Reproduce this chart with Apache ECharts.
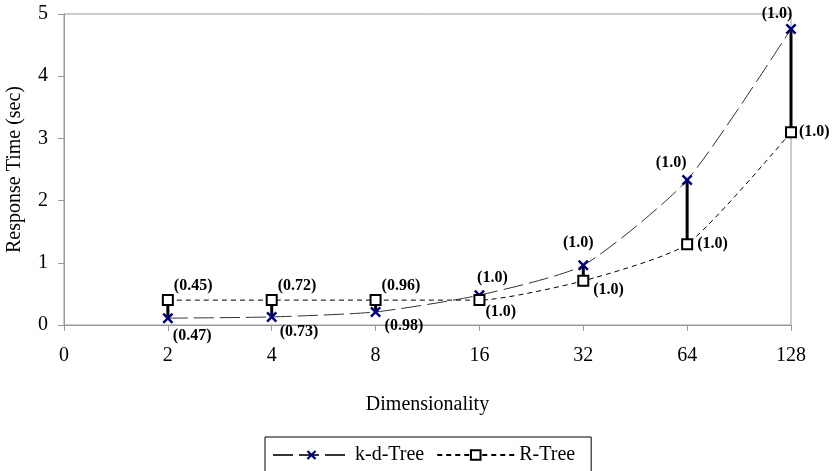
<!DOCTYPE html>
<html><head><meta charset="utf-8">
<script src="https://cdn.jsdelivr.net/npm/echarts@6/dist/echarts.min.js"></script>
<style>html,body{margin:0;padding:0;background:#fff}#c{width:834px;height:471px}</style>
</head><body><div id="c"></div>
<script>
const categories = ['0','2','4','8','16','32','64','128'];
const kdTree = [null, 0.11, 0.13, 0.21, 0.48, 0.96, 2.33, 4.76];
const rTree  = [null, 0.40, 0.40, 0.40, 0.40, 0.71, 1.30, 3.10];
const kdLabels = ['', '(0.47)', '(0.73)', '(0.98)', '(1.0)', '(1.0)', '(1.0)', '(1.0)'];
const rLabels  = ['', '(0.45)', '(0.72)', '(0.96)', '(1.0)', '(1.0)', '(1.0)', '(1.0)'];

// label placement styles (by index)
const kdLabelPos = [null,
  {position:'right', offset:[-5.5,18]},
  {position:'right', offset:[-2.5,15]},
  {position:'right', offset:[-1.5,14]},
  {position:'top', offset:[13,1.5]},
  {position:'top', offset:[-5,-3.5]},
  {position:'top', offset:[-16,1.5]},
  {position:'top', offset:[-14,3.5]}];
const rLabelPos = [null,
  {position:'right', offset:[-5,-14]},
  {position:'right', offset:[-5,-14]},
  {position:'right', offset:[-5,-14]},
  {position:'right', offset:[-5,12]},
  {position:'right', offset:[-1,9]},
  {position:'right', offset:[-1,0]},
  {position:'right', offset:[-3,0]}];

const font = '"Liberation Serif", "Times New Roman", serif';
const labelBase = {show:true, fontFamily:font, fontWeight:'bold', fontSize:16, color:'#000'};

function build(vals, labels, pos){
  return vals.map((v,i)=> v==null ? '-' : {value:v, label:Object.assign({}, labelBase, pos[i], {formatter: labels[i]})});
}
const connectors = kdTree.map((v,i)=> v==null ? null : [i, rTree[i], v]).filter(Boolean);

const xPath = 'path://M0,1.6L1.6,0L5,3.4L8.4,0L10,1.6L6.6,5L10,8.4L8.4,10L5,6.6L1.6,10L0,8.4L3.4,5Z';

const chart = echarts.init(document.getElementById('c'), null, {renderer:'canvas'});
chart.setOption({
  animation:false,
  backgroundColor:'#fff',
  grid:{left:64, right:43, top:14, bottom:146, show:true, borderColor:'#999', borderWidth:1,
        containLabel:false, outerBoundsMode:'none'},
  xAxis:{
    type:'category', data:categories, boundaryGap:false,
    name:'Dimensionality', nameLocation:'middle', nameGap:70,
    nameTextStyle:{fontFamily:font, fontSize:20, color:'#000'},
    axisLine:{lineStyle:{color:'#999', width:1}},
    axisTick:{show:true, length:6, lineStyle:{color:'#999'}},
    axisLabel:{fontFamily:font, fontSize:20, color:'#000', margin:21},
    splitLine:{show:false}
  },
  yAxis:{
    type:'value', min:0, max:5, interval:1,
    name:'Response Time (sec)', nameLocation:'middle', nameGap:39,
    nameTextStyle:{fontFamily:font, fontSize:20, color:'#000'},
    axisLine:{show:true, lineStyle:{color:'#999', width:1}},
    axisTick:{show:true, length:6, lineStyle:{color:'#999'}},
    axisLabel:{fontFamily:font, fontSize:20, color:'#000', margin:16},
    splitLine:{show:false}
  },
  legend:{
    left:265, top:437, orient:'horizontal',
    borderColor:'#000', borderWidth:1, padding:[8,16,10,7],
    itemWidth:77, itemHeight:12, itemGap:12,
    textStyle:{fontFamily:font, fontSize:20, color:'#000'},
    data:['k-d-Tree','R-Tree']
  },
  series:[
    {
      type:'custom', name:'conn', z:1, silent:true,
      encode:{x:0, y:[1,2]},
      data:connectors,
      renderItem:function(params, api){
        const a = api.coord([api.value(0), api.value(1)]);
        const b = api.coord([api.value(0), api.value(2)]);
        return {type:'line', shape:{x1:a[0], y1:a[1], x2:b[0], y2:b[1]}, style:{stroke:'#000', lineWidth:3}};
      }
    },
    {
      type:'line', name:'k-d-Tree', z:3, smooth:0.2,
      data:build(kdTree, kdLabels, kdLabelPos),
      symbol:xPath, symbolSize:11, showAllSymbol:true,
      itemStyle:{color:'#000080'},
      lineStyle:{color:'#333', width:1, type:[20,6]}
    },
    {
      type:'line', name:'R-Tree', z:4, smooth:0.2,
      data:build(rTree, rLabels, rLabelPos),
      symbol:'rect', symbolSize:10, showAllSymbol:true,
      itemStyle:{color:'#fff', borderColor:'#000', borderWidth:2},
      lineStyle:{color:'#000', width:1, type:[5,4]}
    }
  ]
});
</script></body></html>
